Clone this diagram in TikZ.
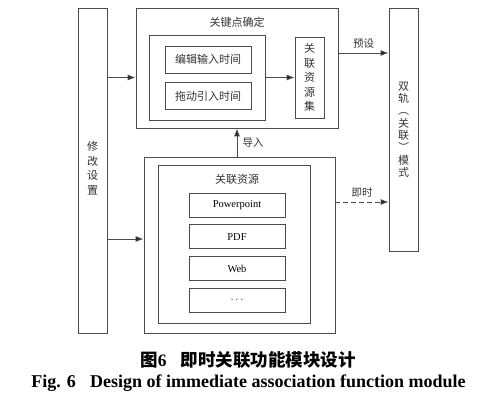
\documentclass[tikz,border=0pt]{standalone}
\usepackage{fontspec}
\setmainfont{Liberation Serif}
\newfontfamily\cjk{Noto Sans CJK SC}
\usetikzlibrary{arrows.meta,positioning}

\begin{document}
\begin{tikzpicture}[
    x=1pt,y=-1pt,
    line width=0.8pt,
    draw=black!70,
    >={Latex[length=8pt,width=6pt,fill=black!85]},
    frame box/.style={rectangle,draw=black!70,inner sep=0pt},
    item box/.style={rectangle,draw=black!70,inner sep=0pt,minimum width=96pt,minimum height=24pt,font=\fontsize{10.5}{12}\selectfont},
    tag box/.style={rectangle,draw=black!70,inner sep=0pt,align=center,font=\cjk\fontsize{11}{14.5}\selectfont,text=black!80},
    tag text/.style={inner sep=0pt,align=center,font=\cjk\fontsize{11}{14.5}\selectfont,text=black!80},
    title text/.style={font=\cjk\fontsize{11}{13}\selectfont,text=black!80},
    edge label/.style={font=\cjk\fontsize{10.5}{12}\selectfont,text=black!80}
]
\useasboundingbox (0,0) rectangle (500,419);

% Left and right columns
\node[frame box, minimum width=29pt, minimum height=325pt] (setting) at (92.5,170.5) {};
\node[tag text, anchor=north] (settext) at (92.5,141) {修\\改\\设\\置};
\node[tag box, minimum width=29pt, minimum height=243pt, font=\cjk\fontsize{11}{12.3}\selectfont] (mode) at (403.5,129.5) {双\\轨\\︵\\关\\联\\︶\\模\\式};

% Key point block
\node[frame box, minimum width=202pt, minimum height=120pt] (keypoint) at (237,68) {};
\node[title text] (keytitle) at (237,22) {关键点确定};
\node[frame box, minimum width=116pt, minimum height=85pt] (timing) at (207,77.5) {};
\node[tag box, minimum width=86pt, minimum height=27pt] (edit) at (208,59.5) {编辑输入时间};
\node[tag box, minimum width=86pt, minimum height=27pt, below=9pt of edit] (drag) {拖动引入时间};
\node[tag box, minimum width=29pt, minimum height=81pt] (resset) at (309.5,77.5) {关\\联\\资\\源\\集};

% Resource block
\node[frame box, minimum width=191pt, minimum height=176pt] (resource) at (239.5,245) {};
\node[frame box, minimum width=152pt, minimum height=158pt] (reslist) at (234,244) {};
\node[title text] (restitle) at (237,179) {关联资源};
\node[item box] (ppt) at (237,205) {Powerpoint};
\node[item box, below=7pt of ppt] (pdf) {PDF};
\node[item box, below=7pt of pdf] (web) {Web};
\node[item box, below=7pt of web] (more) {$\cdots$};

% Arrows
\draw[->] (setting.east |- timing.west) -- (keypoint.west |- timing.west);
\draw[->] ([yshift=6pt]resource.west -| setting.east) -- ([yshift=6pt]resource.west);
\draw[->] (timing.east) -- (resset.west);
\draw[->] ([yshift=15pt]keypoint.east) -- node[edge label, above=1pt] {预设} ([yshift=15pt]keypoint.east -| mode.west);
\draw[->] (keypoint.south |- resource.north) -- node[edge label, right=2pt] {导入} (keypoint.south);
\draw[->, dashed, dash pattern=on 5pt off 3pt] ([yshift=43pt]resource.east) -- node[edge label, above=1pt] {即时} ([yshift=43pt]resource.east -| mode.west);

% Caption
\node[font=\cjk\bfseries\fontsize{17.5}{20}\selectfont] (capcn) at (248,360) {图{\rmfamily 6}\hspace{0.8em}即时关联功能模块设计};
\node[font=\bfseries\fontsize{18}{21}\selectfont] (capen) at (248.5,383) {Fig. 6\hspace{0.8em}Design of immediate association function module};

\end{tikzpicture}
\end{document}
